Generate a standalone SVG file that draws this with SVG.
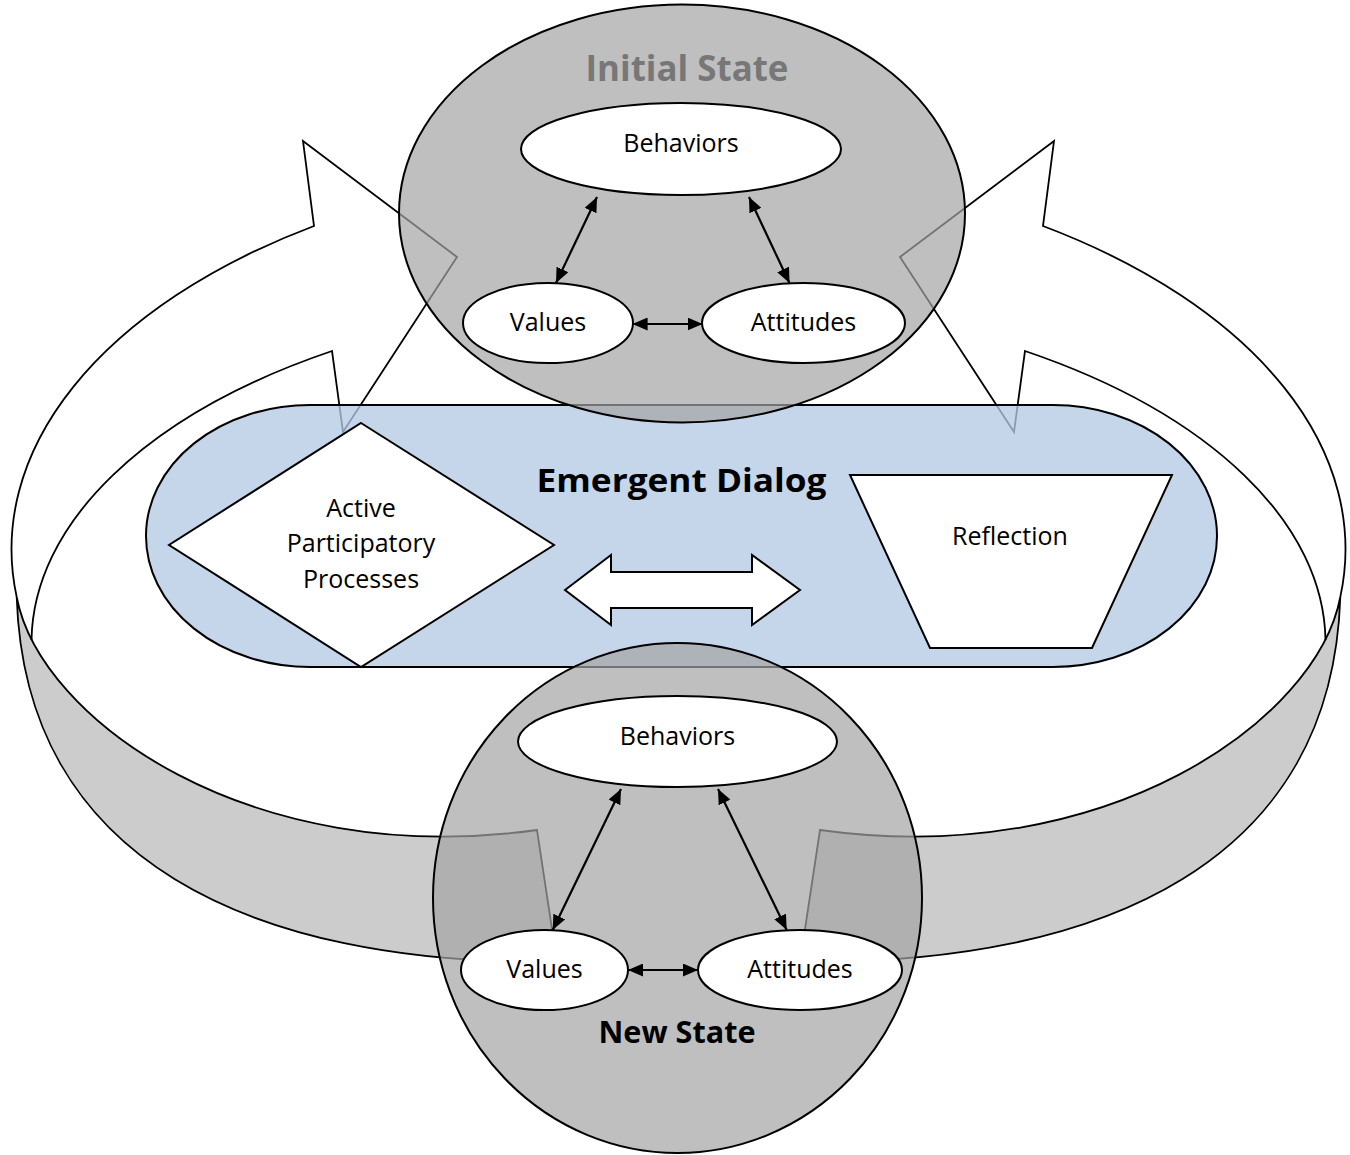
<svg xmlns="http://www.w3.org/2000/svg" width="1350" height="1155" viewBox="0 0 1350 1155">
  <defs>
    <style>
      .edge{fill:none;stroke:#000;stroke-width:1.8;stroke-linejoin:miter}
      .side{fill:#cccccc;stroke:#000;stroke-width:1.8}
      .state{fill:#a4a4a4;fill-opacity:.7;stroke:#000;stroke-width:2}
      .node{fill:#fff;stroke:#000;stroke-width:2}
      .lbl{font-family:'Open Sans','Noto Sans','DejaVu Sans',sans-serif;font-size:25px;fill:#000;text-anchor:middle}
      .title{font-family:'Open Sans','Noto Sans','DejaVu Sans',sans-serif;font-weight:700;text-anchor:middle}
      .link{fill:none;stroke:#000;stroke-width:2.2;marker-start:url(#head);marker-end:url(#head)}
    </style>
    <marker id="head" viewBox="0 0 15 13" refX="15" refY="6.5" markerWidth="15" markerHeight="13" markerUnits="userSpaceOnUse" orient="auto-start-reverse">
      <path d="M0,0 L15,6.5 L0,13 Z" fill="#000"/>
    </marker>
    <!-- one half of the 3D cycle arrow: extruded side band plus top-face outline -->
    <g id="cycleHalf">
      <path class="side" d="M16.7,597 C40,720 250,870 537,830 L557,962 C250,965 25,860 16.7,597 Z"/>
      <path class="edge" d="M16.7,597 A668.5 386 0 0 1 314,226 L303,141 L457,257 L343,432 L332,351 A648 346 0 0 0 31.5,640"/>
    </g>
  </defs>

  <rect width="1350" height="1155" fill="#fff"/>

  <!-- cycle arrows -->
  <g id="cycle-left"><use href="#cycleHalf"/></g>
  <g id="cycle-right"><use href="#cycleHalf" transform="matrix(-1 0 0 1 1357 0)"/></g>

  <!-- dialog band -->
  <g id="emergent-dialog">
    <rect x="146" y="405" width="1071" height="262" rx="164" ry="131" fill="rgb(181,202,228)" fill-opacity=".77" stroke="#000" stroke-width="2"/>
    <text class="title" x="681.5" y="492" font-size="33" textLength="290" lengthAdjust="spacingAndGlyphs">Emergent Dialog</text>
  </g>

  <g id="active-participatory">
    <polygon class="node" points="361,423 554,545 361,667 169,545"/>
    <text class="lbl" x="361" y="517">Active</text>
    <text class="lbl" x="361" y="552">Participatory</text>
    <text class="lbl" x="361" y="588">Processes</text>
  </g>

  <g id="reflection">
    <polygon class="node" points="850,475 1172,475 1092,648 930,648"/>
    <text class="lbl" x="1010" y="545">Reflection</text>
  </g>

  <!-- state clouds -->
  <g id="initial-state">
    <ellipse class="state" cx="682" cy="213.5" rx="283" ry="209"/>
    <text class="title" x="687" y="81" font-size="36" fill="#777" textLength="203" lengthAdjust="spacingAndGlyphs">Initial State</text>
  </g>

  <g id="new-state">
    <ellipse class="state" cx="677.5" cy="898" rx="244.5" ry="255"/>
    <text class="title" x="677" y="1043" font-size="31" fill="#000" textLength="157" lengthAdjust="spacingAndGlyphs">New State</text>
  </g>

  <!-- connectors -->
  <g id="connectors">
    <polygon fill="#fff" stroke="#000" stroke-width="2" points="565,590 611,555 611,572 752,572 752,555 800,590 752,625 752,608 611,608 611,625"/>
    <line class="link" x1="597" y1="197" x2="556" y2="283"/>
    <line class="link" x1="749" y1="197" x2="789.5" y2="283"/>
    <line class="link" x1="632.6" y1="324" x2="702.6" y2="324"/>
    <line class="link" x1="621" y1="789" x2="552.7" y2="930"/>
    <line class="link" x1="718" y1="789" x2="786.7" y2="930"/>
    <line class="link" x1="628" y1="970" x2="698" y2="970"/>
  </g>

  <!-- initial state members -->
  <g id="init-behaviors">
    <ellipse class="node" cx="681" cy="149" rx="160" ry="46"/>
    <text class="lbl" x="681" y="152">Behaviors</text>
  </g>
  <g id="init-values">
    <ellipse class="node" cx="548" cy="323" rx="85" ry="40"/>
    <text class="lbl" x="548" y="331">Values</text>
  </g>
  <g id="init-attitudes">
    <ellipse class="node" cx="803.5" cy="323" rx="101.5" ry="40"/>
    <text class="lbl" x="803.5" y="331">Attitudes</text>
  </g>

  <!-- new state members -->
  <g id="new-behaviors">
    <ellipse class="node" cx="677.5" cy="741.5" rx="159.5" ry="45.5"/>
    <text class="lbl" x="677.5" y="745">Behaviors</text>
  </g>
  <g id="new-values">
    <ellipse class="node" cx="544.5" cy="970" rx="83.5" ry="40"/>
    <text class="lbl" x="544.5" y="978">Values</text>
  </g>
  <g id="new-attitudes">
    <ellipse class="node" cx="800" cy="970" rx="102" ry="40"/>
    <text class="lbl" x="800" y="978">Attitudes</text>
  </g>
</svg>
